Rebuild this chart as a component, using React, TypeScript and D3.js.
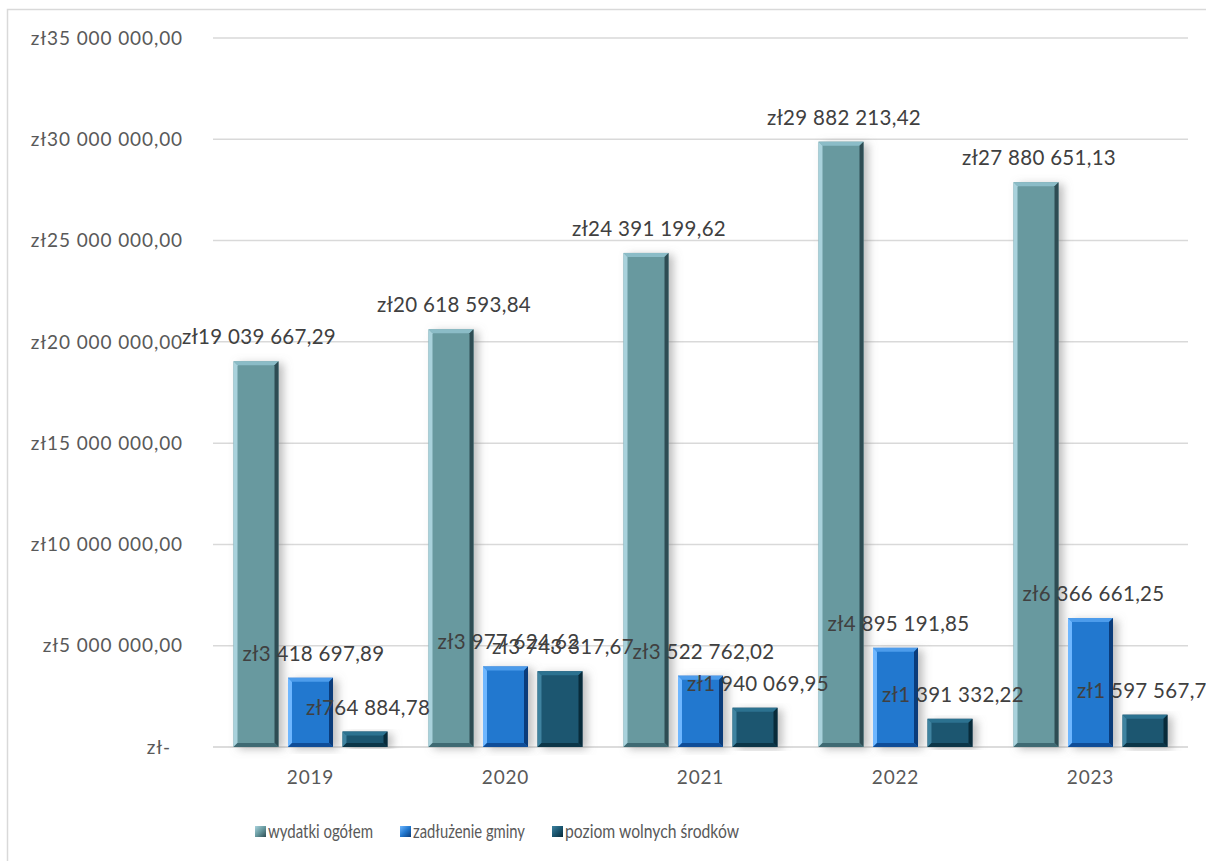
import React from "react";
import * as d3 from "d3";

const years = ["2019", "2020", "2021", "2022", "2023"];
const seriesNames = ["wydatki ogółem", "zadłużenie gminy", "poziom wolnych środków"];
const wydatki = [19039667.29, 20618593.84, 24391199.62, 29882213.42, 27880651.13];
const zadluzenie = [3418697.89, 3977624.62, 3522762.02, 4895191.85, 6366661.25];
const wolne = [764884.78, 3743317.67, 1940069.95, 1391332.22, 1597567.77];
const yTicks = [0, 5000000, 10000000, 15000000, 20000000, 25000000, 30000000, 35000000];

const W = 1206;
const H = 861;
const FONT = "Lato, 'Open Sans', sans-serif";

const palette = [
  { face: "#67999f", light: "#a9d2dc", dark: "#2e4c53", top: "#8bbcc7", bottom: "#3f6a73" },
  { face: "#2278cf", light: "#6fb7ff", dark: "#0b3c7a", top: "#4d9ceb", bottom: "#0f4d98" },
  { face: "#1a5670", light: "#3f83a0", dark: "#082b3a", top: "#2c7290", bottom: "#0c3648" },
];

function fmt(v: number): string {
  if (v === 0) return "zł-";
  const [intPart, dec] = v.toFixed(2).split(".");
  const grouped = intPart.replace(/\B(?=(\d{3})+(?!\d))/g, " ");
  return `zł${grouped},${dec}`;
}

export default function App() {
  const data = [wydatki, zadluzenie, wolne];
  const x0 = d3.scaleBand<string>().domain(years).range([213, 1188]).padding(0);
  const inset = 20.5;
  const x1 = d3
    .scaleBand<number>()
    .domain([0, 1, 2])
    .range([inset, x0.bandwidth() - inset])
    .paddingInner(0.174);
  const y = d3.scaleLinear().domain([0, 35000000]).range([747, 38]);
  const bw = x1.bandwidth();
  const bv = 4;

  const bars: React.ReactNode[] = [];
  const labels: React.ReactNode[] = [];
  years.forEach((yr, i) => {
    data.forEach((arr, s) => {
      const v = arr[i];
      const xl = (x0(yr) as number) + (x1(s) as number);
      const xr = xl + bw;
      const yt = y(v);
      const yb = y(0);
      const p = palette[s];
      const pts = (a: number[][]) => a.map((q) => q.join(",")).join(" ");
      bars.push(
        <g key={`b-${i}-${s}`}>
          <rect x={xl} y={yt} width={bw} height={yb - yt} fill={p.face} filter="url(#shadow)" />
          <polygon points={pts([[xl, yt], [xr, yt], [xr - bv, yt + bv], [xl + bv, yt + bv]])} fill={p.top} />
          <polygon points={pts([[xl, yt], [xl + bv, yt + bv], [xl + bv, yb - bv], [xl, yb]])} fill={p.light} />
          <polygon points={pts([[xr, yt], [xr, yb], [xr - bv, yb - bv], [xr - bv, yt + bv]])} fill={p.dark} />
          <polygon points={pts([[xl, yb], [xl + bv, yb - bv], [xr - bv, yb - bv], [xr, yb]])} fill={p.bottom} />
        </g>
      );
      labels.push(
        <text
          key={`l-${i}-${s}`}
          x={(xl + xr) / 2 + 3}
          y={yt - 17}
          textAnchor="middle"
          fontSize={20.5}
          letterSpacing={0.3}
          fill="#404040"
          fontFamily={FONT}
        >
          {fmt(v)}
        </text>
      );
    });
  });

  const legendItems = [
    { x: 255, label: seriesNames[0], len: 105 },
    { x: 400, label: seriesNames[1], len: 112 },
    { x: 552, label: seriesNames[2], len: 174 },
  ];

  return (
    <svg
      width={W}
      height={H}
      style={{ position: "absolute", left: 0, top: 0, background: "#fff" }}
      fontFamily={FONT}
    >
      <defs>
        <filter id="shadow" x="-30%" y="-10%" width="180%" height="120%">
          <feDropShadow dx="5" dy="2" stdDeviation="4" floodColor="#7f7f7f" floodOpacity="0.5" />
        </filter>
        {palette.map((p, s) => (
          <linearGradient key={s} id={`lg${s}`} x1="0" y1="0" x2="1" y2="1">
            <stop offset="0" stopColor={p.light} />
            <stop offset="0.5" stopColor={p.face} />
            <stop offset="1" stopColor={p.dark} />
          </linearGradient>
        ))}
      </defs>
      <rect x={7.5} y={9.5} width={1300} height={900} fill="#fff" stroke="#d9d9d9" strokeWidth={1.5} />
      {yTicks.map((t) => (
        <g key={t}>
          <line x1={213} x2={1188} y1={y(t)} y2={y(t)} stroke={t === 0 ? "#d0d0d0" : "#d9d9d9"} strokeWidth={1.5} />
          <text
            x={t === 0 ? 171 : 183}
            y={y(t)}
            dy="0.35em"
            textAnchor="end"
            fontSize={19}
            letterSpacing={0.9}
            fill="#595959"
          >
            {fmt(t)}
          </text>
        </g>
      ))}
      {bars}
      {labels}
      {years.map((yr) => (
        <text
          key={yr}
          x={(x0(yr) as number) + x0.bandwidth() / 2}
          y={777}
          dy="0.35em"
          textAnchor="middle"
          fontSize={19}
          letterSpacing={0.8}
          fill="#595959"
        >
          {yr}
        </text>
      ))}
      {legendItems.map((it, s) => (
        <g key={it.label}>
          <rect x={it.x} y={826} width={11} height={11} fill={`url(#lg${s})`} />
          <text
            x={it.x + 13}
            y={831}
            dy="0.35em"
            fontSize={20}
            textLength={it.len}
            lengthAdjust="spacingAndGlyphs"
            fill="#595959"
          >
            {it.label}
          </text>
        </g>
      ))}
    </svg>
  );
}
